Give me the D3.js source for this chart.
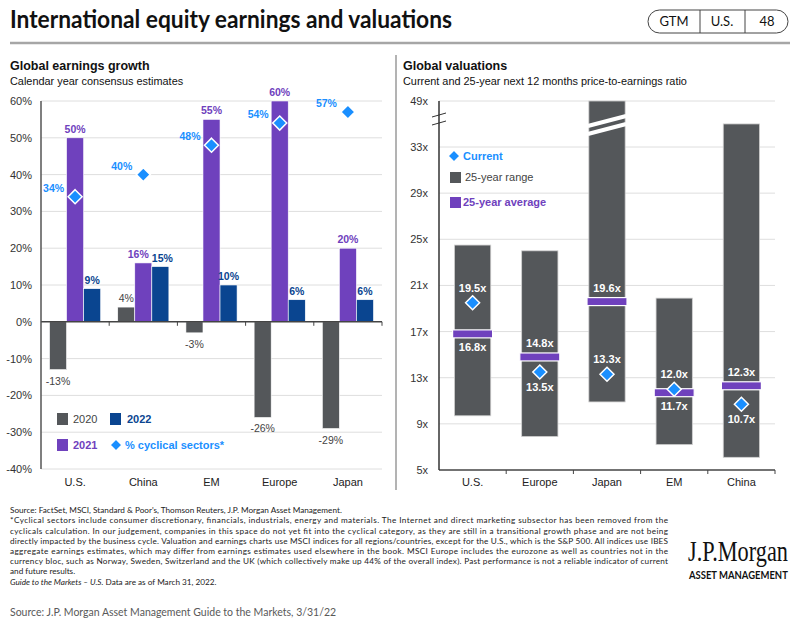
<!DOCTYPE html>
<html>
<head>
<meta charset="UTF-8">
<title>International equity earnings and valuations</title>
<style>
  body { margin: 0; background: #fff; }
  svg { display: block; }
</style>
</head>
<body>
<script src="https://cdn.jsdelivr.net/npm/d3@7"></script>
<svg id="svg" width="800" height="629"></svg>
<script>
// ---- data ----
const earnCats = ["U.S.", "China", "EM", "Europe", "Japan"];
const years = ["2020", "2021", "2022"];
const growth2020 = [-13, 4, -3, -26, -29];
const growth2021 = [50, 16, 55, 60, 20];
const growth2022 = [9, 15, 10, 6, 6];
const cyclical = [34, 40, 48, 54, 57];
const growthTicks = [-40, -30, -20, -10, 0, 10, 20, 30, 40, 50, 60];

const valCats = ["U.S.", "Europe", "Japan", "EM", "China"];
const rangeLow = [9.7, 7.9, 10.9, 7.2, 6.1];
const rangeHigh = [24.5, 24.0, 49, 19.9, 35.0];
const avg25 = [16.8, 14.8, 19.6, 11.7, 12.3];
const current = [19.5, 13.5, 13.3, 12.0, 10.7];
const valTicks = [5, 9, 13, 17, 21, 25, 29, 33, 49];
const currentSide = ["above", "below", "above", "above", "below"];
const avgSide = ["below", "above", "above", "below", "above"];

const footLines = [
  "*Cyclical sectors include consumer discretionary, financials, industrials, energy and materials. The Internet and direct marketing subsector has been removed from the",
  "cyclicals calculation. In our judgement, companies in this space do not yet fit into the cyclical category, as they are still in a transitional growth phase and are not being",
  "directly impacted by the business cycle. Valuation and earnings charts use MSCI indices for all regions/countries, except for the U.S., which is the S&P 500. All indices use IBES",
  "aggregate earnings estimates, which may differ from earnings estimates used elsewhere in the book. MSCI Europe includes the eurozone as well as countries not in the",
  "currency bloc, such as Norway, Sweden, Switzerland and the UK (which collectively make up 44% of the overall index). Past performance is not a reliable indicator of current"
];

// colours
const cGray = "#54575a", cPurple = "#6f41bd", cNavy = "#0a4590", cBlue = "#1a8fff";
const sans = "'Liberation Sans', Arial, sans-serif";
const narrow = "Lato, 'Open Sans', sans-serif";

const svg = d3.select("#svg");
svg.append("rect").attr("width", 800).attr("height", 629).attr("fill", "#fff");

// ---- header ----
svg.append("text").attr("x", 10).attr("y", 28)
  .attr("font-family", narrow).attr("font-weight", 700).attr("font-size", 24)
  .attr("textLength", 442).attr("lengthAdjust", "spacingAndGlyphs")
  .attr("fill", "#111").text("International equity earnings and valuations");

const pill = svg.append("g");
pill.append("rect").attr("x", 648).attr("y", 10).attr("width", 140).attr("height", 23)
  .attr("rx", 11.5).attr("fill", "none").attr("stroke", "#444").attr("stroke-width", 1);
[700, 745].forEach(x => pill.append("line").attr("x1", x).attr("x2", x).attr("y1", 10).attr("y2", 33)
  .attr("stroke", "#444").attr("stroke-width", 1));
[["GTM", 674], ["U.S.", 722], ["48", 767]].forEach(d => pill.append("text")
  .attr("x", d[1]).attr("y", 26).attr("text-anchor", "middle")
  .attr("font-family", narrow).attr("font-size", 13).attr("fill", "#111").text(d[0]));

svg.append("line").attr("x1", 10).attr("x2", 790).attr("y1", 43).attr("y2", 43)
  .attr("stroke", "#a6a6a6").attr("stroke-width", 2.5);

// divider between panels
svg.append("line").attr("x1", 396).attr("x2", 396).attr("y1", 55).attr("y2", 490)
  .attr("stroke", "#9a9a9a").attr("stroke-width", 1.5);

function titles(x, t, s) {
  svg.append("text").attr("x", x).attr("y", 70).attr("font-family", sans)
    .attr("font-weight", 700).attr("font-size", 12.5).attr("fill", "#111").text(t);
  svg.append("text").attr("x", x).attr("y", 85).attr("font-family", sans)
    .attr("font-size", 10.9).attr("fill", "#111").text(s);
}
titles(10, "Global earnings growth", "Calendar year consensus estimates");
titles(403, "Global valuations", "Current and 25-year next 12 months price-to-earnings ratio");

function diamond(g, cx, cy, r, fill) {
  g.append("path").attr("d", `M${cx},${cy - r}L${cx + r},${cy}L${cx},${cy + r}L${cx - r},${cy}Z`)
    .attr("fill", fill).attr("stroke", "#fff").attr("stroke-width", 1.5);
}

// ---- left chart: earnings growth ----
const L = svg.append("g");
const xL = d3.scaleBand().domain(earnCats).range([41, 382]).paddingInner(0.25).paddingOuter(0.125);
const xSub = d3.scaleBand().domain(years).range([0, xL.bandwidth()]);
const yL = d3.scaleLinear().domain([-40, 60]).range([469, 101]);

L.append("g").selectAll("line").data(growthTicks.filter(t => t !== 0)).join("line")
  .attr("x1", 41).attr("x2", 382).attr("y1", d => yL(d)).attr("y2", d => yL(d))
  .attr("stroke", "#dedede").attr("stroke-width", 1);

const axL = L.append("g").attr("transform", "translate(41,0)")
  .call(d3.axisLeft(yL).tickValues(growthTicks).tickFormat(d => d + "%").tickSize(0).tickPadding(9));
axL.select(".domain").remove();
axL.selectAll("text").attr("font-family", sans).attr("font-size", 11).attr("fill", "#333");

const series = [growth2020, growth2021, growth2022];
const sColors = [cGray, cPurple, cNavy];
series.forEach((vals, si) => {
  L.append("g").selectAll("rect").data(vals).join("rect")
    .attr("x", (d, i) => xL(earnCats[i]) + xSub(years[si]))
    .attr("width", xSub.bandwidth())
    .attr("y", d => yL(Math.max(0, d)))
    .attr("height", d => Math.abs(yL(d) - yL(0)))
    .attr("fill", sColors[si]).attr("stroke", "#fff").attr("stroke-width", 0.6);
});

// zero line + category ticks
L.append("line").attr("x1", 41).attr("x2", 382).attr("y1", yL(0)).attr("y2", yL(0))
  .attr("stroke", "#444").attr("stroke-width", 1.5);
const bndL = earnCats.map(c => xL(c) - xL.step() * 0.125).concat([382]);
L.append("g").selectAll("line").data(bndL.slice(1)).join("line")
  .attr("x1", d => d).attr("x2", d => d).attr("y1", yL(0)).attr("y2", yL(0) + 4)
  .attr("stroke", "#444").attr("stroke-width", 1);
L.append("line").attr("x1", 41).attr("x2", 41).attr("y1", 101).attr("y2", 469)
  .attr("stroke", "#555").attr("stroke-width", 1.5);

// bar labels (nudge 2021/2022 apart when they sit at nearly the same height)
series.forEach((vals, si) => {
  L.append("g").selectAll("text").data(vals).join("text")
    .attr("x", (d, i) => {
      let x = xL(earnCats[i]) + xSub(years[si]) + xSub.bandwidth() / 2;
      const close = Math.abs(growth2021[i] - growth2022[i]) < 4;
      if (close && si === 1) x -= 5;
      if (close && si === 2) x += 2;
      return x;
    })
    .attr("y", d => d < 0 ? yL(d) + 15 : yL(d) - 5)
    .attr("text-anchor", "middle").attr("font-family", sans).attr("font-size", 10.5)
    .attr("font-weight", si === 0 ? 400 : 700)
    .attr("fill", si === 0 ? "#444" : sColors[si])
    .text(d => d + "%");
});

// cyclical diamonds
cyclical.forEach((v, i) => {
  const cx = xL(earnCats[i]) + xSub("2021") + xSub.bandwidth() / 2;
  diamond(L, cx, yL(v), 7, cBlue);
  L.append("text").attr("x", cx - 11).attr("y", yL(v) - 5).attr("text-anchor", "end")
    .attr("font-family", sans).attr("font-size", 10.5).attr("font-weight", 700)
    .attr("fill", cBlue).text(v + "%");
});

L.append("g").selectAll("text").data(earnCats).join("text")
  .attr("x", d => xL(d) + xL.bandwidth() / 2).attr("y", 486).attr("text-anchor", "middle")
  .attr("font-family", sans).attr("font-size", 11).attr("fill", "#222").text(d => d);

// legend left
const lg = L.append("g").attr("font-family", sans).attr("font-size", 11);
lg.append("rect").attr("x", 57).attr("y", 413).attr("width", 11).attr("height", 12).attr("fill", cGray);
lg.append("text").attr("x", 73).attr("y", 423).attr("fill", "#444").text("2020");
lg.append("rect").attr("x", 110).attr("y", 413).attr("width", 11).attr("height", 12).attr("fill", cNavy);
lg.append("text").attr("x", 127).attr("y", 423).attr("fill", cNavy).attr("font-weight", 700).text("2022");
lg.append("rect").attr("x", 57).attr("y", 439).attr("width", 11).attr("height", 12).attr("fill", cPurple);
lg.append("text").attr("x", 73).attr("y", 449).attr("fill", cPurple).attr("font-weight", 700).text("2021");
diamond(lg, 116, 445, 6, cBlue);
lg.append("text").attr("x", 125).attr("y", 449).attr("fill", cBlue).attr("font-weight", 700).text("% cyclical sectors*");

// ---- right chart: valuations ----
// linear 5x..~35.5x, then a compressed segment above the axis break up to 49x
const R = svg.append("g");
const xR = d3.scaleBand().domain(valCats).range([439, 775]).paddingInner(0.46).paddingOuter(0.23);
const pxPerX = (470 - 147) / (33 - 5);
const yR = d3.scaleLinear().domain([5, 35.5, 49]).range([470, 470 - 30.5 * pxPerX, 101]);

R.append("g").selectAll("line").data(valTicks.slice(1)).join("line")
  .attr("x1", 439).attr("x2", 775).attr("y1", d => yR(d)).attr("y2", d => yR(d))
  .attr("stroke", "#dedede").attr("stroke-width", 1);
const axR = R.append("g").attr("transform", "translate(439,0)")
  .call(d3.axisLeft(yR).tickValues(valTicks).tickFormat(d => d + "x").tickSize(0).tickPadding(11));
axR.select(".domain").remove();
axR.selectAll("text").attr("font-family", sans).attr("font-size", 11).attr("fill", "#333");

R.append("g").selectAll("rect").data(valCats).join("rect")
  .attr("x", d => xR(d)).attr("width", xR.bandwidth())
  .attr("y", (d, i) => yR(rangeHigh[i]))
  .attr("height", (d, i) => yR(rangeLow[i]) - yR(rangeHigh[i]))
  .attr("fill", cGray).attr("stroke", "#d0d0d0").attr("stroke-width", 0.8);

// break marks on the Japan bar
const jx = xR("Japan"), jw = xR.bandwidth();
[[126, 116], [134, 124]].forEach(p => R.append("line")
  .attr("x1", jx - 1).attr("x2", jx + jw + 1).attr("y1", p[0]).attr("y2", p[1])
  .attr("stroke", "#fff").attr("stroke-width", 4));

// axis lines
R.append("line").attr("x1", 439).attr("x2", 775).attr("y1", 470).attr("y2", 470)
  .attr("stroke", "#444").attr("stroke-width", 1.5);
const bndR = valCats.map(c => xR(c) - xR.step() * 0.23).concat([775]);
R.append("g").selectAll("line").data(bndR.slice(1)).join("line")
  .attr("x1", d => d).attr("x2", d => d).attr("y1", 470).attr("y2", 474)
  .attr("stroke", "#444").attr("stroke-width", 1);
R.append("line").attr("x1", 439).attr("x2", 439).attr("y1", 101).attr("y2", 470)
  .attr("stroke", "#333").attr("stroke-width", 1.5);
[[117, 113], [125, 121]].forEach(p => R.append("line")
  .attr("x1", 432).attr("x2", 446).attr("y1", p[0]).attr("y2", p[1])
  .attr("stroke", "#333").attr("stroke-width", 1));

// averages, current, labels
valCats.forEach((c, i) => {
  const cx = xR(c) + xR.bandwidth() / 2;
  const ya = yR(avg25[i]), yc = yR(current[i]);
  R.append("rect").attr("x", cx - 20).attr("y", ya - 4).attr("width", 40).attr("height", 8)
    .attr("fill", cPurple).attr("stroke", "#fff").attr("stroke-width", 1.2);
  diamond(R, cx, yc, 7, cBlue);
  const lab = (y, t) => R.append("text").attr("x", cx).attr("y", y).attr("text-anchor", "middle")
    .attr("font-family", sans).attr("font-size", 11).attr("font-weight", 700)
    .attr("fill", "#fff").text(t);
  lab(avgSide[i] === "above" ? ya - 10 : ya + 17, avg25[i].toFixed(1) + "x");
  lab(currentSide[i] === "above" ? yc - 11 : yc + 19, current[i].toFixed(1) + "x");
});

R.append("g").selectAll("text").data(valCats).join("text")
  .attr("x", d => xR(d) + xR.bandwidth() / 2).attr("y", 486).attr("text-anchor", "middle")
  .attr("font-family", sans).attr("font-size", 11).attr("fill", "#222").text(d => d);

// legend right
const rg = R.append("g").attr("font-family", sans).attr("font-size", 11);
diamond(rg, 454, 156, 6, cBlue);
rg.append("text").attr("x", 463).attr("y", 160).attr("fill", cBlue).attr("font-weight", 700).text("Current");
rg.append("rect").attr("x", 450).attr("y", 172).attr("width", 11).attr("height", 11).attr("fill", cGray);
rg.append("text").attr("x", 465).attr("y", 181).attr("fill", "#444").text("25-year range");
rg.append("rect").attr("x", 450).attr("y", 197).attr("width", 11).attr("height", 11).attr("fill", cPurple);
rg.append("text").attr("x", 463).attr("y", 206).attr("fill", cPurple).attr("font-weight", 700).text("25-year average");

// ---- footnotes ----
const fn = svg.append("g").attr("font-family", narrow).attr("font-size", 8.2).attr("fill", "#222");
fn.append("text").attr("x", 10).attr("y", 513)
  .text("Source: FactSet, MSCI, Standard & Poor's, Thomson Reuters, J.P. Morgan Asset Management.");
footLines.forEach((t, i) => fn.append("text").attr("x", 10).attr("y", 523.3 + i * 10.2)
  .attr("textLength", 658).attr("lengthAdjust", "spacing").text(t));
fn.append("text").attr("x", 10).attr("y", 523.3 + 5 * 10.2).text("and future results.");
const g6 = fn.append("text").attr("x", 10).attr("y", 523.3 + 6 * 10.2);
g6.append("tspan").attr("font-style", "italic").text("Guide to the Markets – U.S.");
g6.append("tspan").text(" Data are as of March 31, 2022.");

// logo: squeeze natural-width text horizontally to fit its box
function fitText(x, y, w, family, size, weight, txt) {
  const g = svg.append("g");
  const t = g.append("text").attr("font-family", family).attr("font-size", size)
    .attr("font-weight", weight).attr("fill", "#111").text(txt);
  const k = w / t.node().getComputedTextLength();
  g.attr("transform", `translate(${x},${y}) scale(${k},1)`);
}
fitText(688, 561, 100, "'Liberation Serif', 'DejaVu Serif', serif", 30, 400, "J.P.Morgan");
fitText(689, 579, 99, narrow, 11.5, 700, "ASSET MANAGEMENT");

svg.append("text").attr("x", 10).attr("y", 616).attr("font-family", narrow).attr("font-size", 10.5)
  .attr("fill", "#595959").text("Source: J.P. Morgan Asset Management Guide to the Markets, 3/31/22");
</script>
</body>
</html>
